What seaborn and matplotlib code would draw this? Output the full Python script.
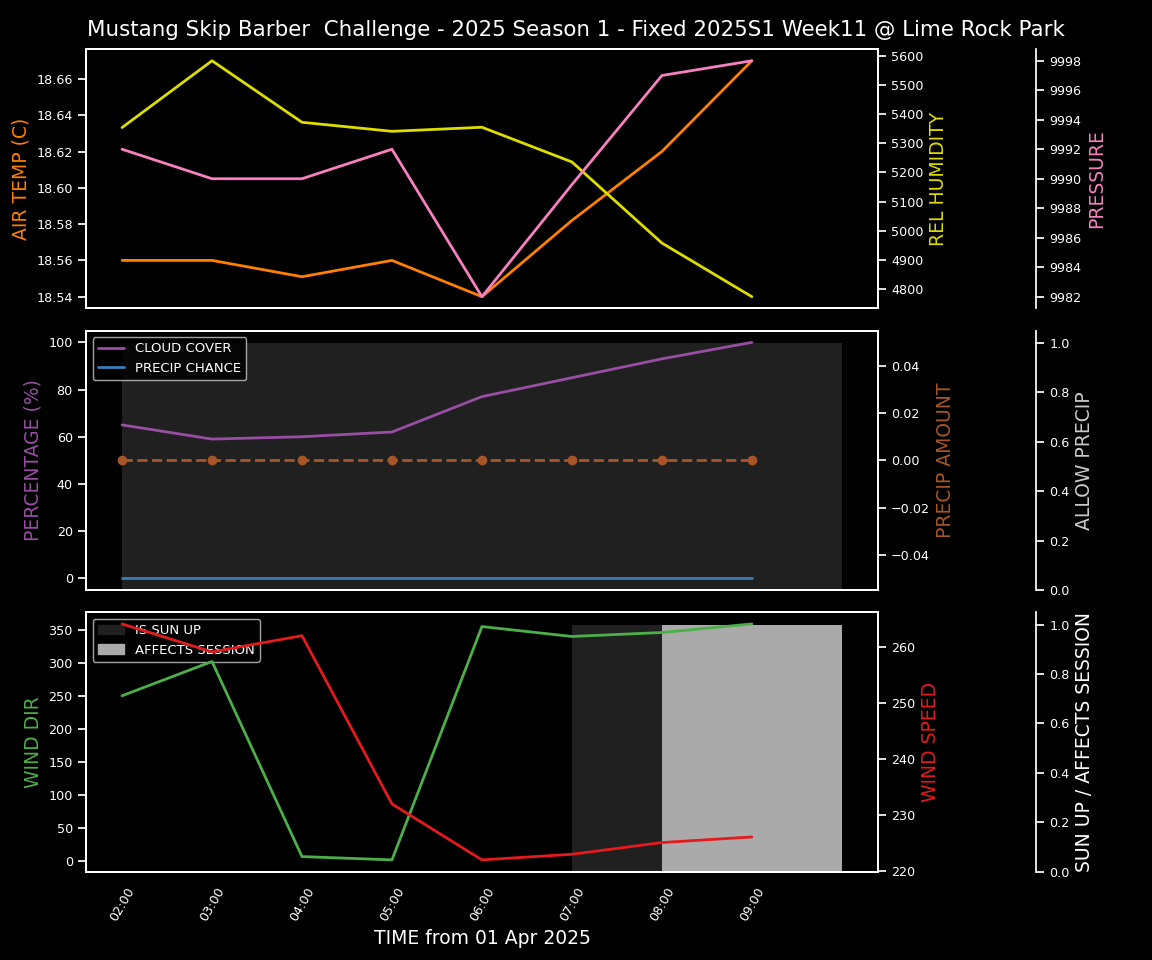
import matplotlib
matplotlib.use("Agg")
import matplotlib.pyplot as plt
import matplotlib.dates as mdates
from matplotlib.ticker import MultipleLocator
from matplotlib.patches import Patch
import seaborn as sns
import pandas as pd

sns.set_theme(style="dark")
plt.style.use("dark_background")
plt.rcParams['font.family'] = ['DejaVu Sans']
plt.rcParams['xtick.labelsize'] = 9.2
plt.rcParams['ytick.labelsize'] = 9.2
plt.rcParams['legend.fontsize'] = 9.5

# ---- data ----
time_labels = ["02:00", "03:00", "04:00", "05:00", "06:00", "07:00", "08:00", "09:00"]
air_temp = [18.56, 18.56, 18.551, 18.56, 18.54, 18.582, 18.62, 18.67]
rel_humidity = [5354, 5583, 5372, 5341, 5355, 5236, 4958, 4774]
pressure = [9992, 9990, 9990, 9992, 9982, 9989.6, 9997, 9998]
cloud_cover = [65, 59, 60, 62, 77, 85, 93, 100]
precip_chance = [0, 0, 0, 0, 0, 0, 0, 0]
precip_amount = [0, 0, 0, 0, 0, 0, 0, 0]
allow_precip = [1, 1, 1, 1, 1, 1, 1, 1]
wind_dir = [250, 302, 6, 1, 355, 340, 346, 359]
wind_speed = [264.2, 259.2, 262.1, 232.0, 222.0, 223.0, 225.1, 226.1]
sun_up = [0, 0, 0, 0, 0, 1, 1, 1]
affects_session = [0, 0, 0, 0, 0, 0, 1, 1]

times = pd.to_datetime(["2025-04-01 " + t for t in time_labels])
times_ext = list(times) + [times[-1] + pd.Timedelta(hours=1)]
def ext(v):
    return list(v) + [v[-1]]

C_TEMP = "#ff7f00"
C_HUM = "#dddd00"
C_PRES = "#f781bf"
C_CLOUD = "#984ea3"
C_PCH = "#377eb8"
C_PAMT = "#a65628"
C_WDIR = "#4daf4a"
C_WSPD = "#e41a1c"
C_ALLOW = "#cccccc"
LW = 2
LBL = 13.5

fig, axes = plt.subplots(3, 1, figsize=(11.52, 9.6), dpi=100, sharex=True)
fig.subplots_adjust(left=0.0747, right=0.762, top=0.949, bottom=0.092, hspace=0.085)
fig.suptitle("Mustang Skip Barber  Challenge - 2025 Season 1 - Fixed 2025S1 Week11 @ Lime Rock Park",
             fontsize=15.4, color="white", y=0.979)

# ---- top panel ----
ax = axes[0]
sns.lineplot(x=times, y=air_temp, ax=ax, color=C_TEMP, linewidth=LW)
ax.set_ylabel("AIR TEMP (C)", color=C_TEMP, fontsize=LBL)
ax2 = ax.twinx()
sns.lineplot(x=times, y=rel_humidity, ax=ax2, color=C_HUM, linewidth=LW)
ax2.set_ylabel("REL HUMIDITY", color=C_HUM, fontsize=LBL)
ax3 = ax.twinx()
ax3.spines['right'].set_position(('axes', 1.2))
sns.lineplot(x=times, y=pressure, ax=ax3, color=C_PRES, linewidth=LW)
ax3.yaxis.set_major_locator(MultipleLocator(2))
ax3.set_ylabel("PRESSURE", color=C_PRES, fontsize=LBL)

# ---- middle panel ----
ax = axes[1]
ax3 = ax.twinx()
ax3.spines['right'].set_position(('axes', 1.2))
ax3.fill_between(times_ext, 0, ext(allow_precip), step='post', color="#202020", linewidth=0)
ax3.set_ylim(0, 1.05)
ax3.set_ylabel("ALLOW PRECIP", color=C_ALLOW, fontsize=LBL)
ax2 = ax.twinx()
sns.lineplot(x=times, y=precip_amount, ax=ax2, color=C_PAMT, linewidth=LW,
             linestyle='--', marker='o', markersize=7, markeredgewidth=0)
ax2.set_ylabel("PRECIP AMOUNT", color=C_PAMT, fontsize=LBL)
sns.lineplot(x=times, y=cloud_cover, ax=ax, color=C_CLOUD, linewidth=LW, label="CLOUD COVER")
sns.lineplot(x=times, y=precip_chance, ax=ax, color=C_PCH, linewidth=LW, label="PRECIP CHANCE")
ax.set_ylabel("PERCENTAGE (%)", color=C_CLOUD, fontsize=LBL)
ax.legend(loc="upper left")
ax3.set_zorder(0)
ax2.set_zorder(1)
ax.set_zorder(2)
ax.patch.set_visible(False)
ax2.patch.set_visible(False)

# ---- bottom panel ----
ax = axes[2]
ax3 = ax.twinx()
ax3.spines['right'].set_position(('axes', 1.2))
ax3.fill_between(times_ext, 0, ext(sun_up), step='post', color="#202020", linewidth=0)
ax3.fill_between(times_ext, 0, ext(affects_session), step='post', color="#aaaaaa", linewidth=0)
ax3.set_ylim(0, 1.05)
ax3.set_ylabel("SUN UP / AFFECTS SESSION", color="white", fontsize=LBL)
ax3.legend(handles=[Patch(color="#202020", label="IS SUN UP"),
                    Patch(color="#aaaaaa", label="AFFECTS SESSION")],
           loc="upper left")
sns.lineplot(x=times, y=wind_dir, ax=ax, color=C_WDIR, linewidth=LW)
ax.set_ylabel("WIND DIR", color=C_WDIR, fontsize=LBL)
ax2 = ax.twinx()
sns.lineplot(x=times, y=wind_speed, ax=ax2, color=C_WSPD, linewidth=LW)
ax2.set_ylabel("WIND SPEED", color=C_WSPD, fontsize=LBL)
ax3.set_zorder(0)
ax.set_zorder(1)
ax2.set_zorder(2)
ax.patch.set_visible(False)
ax2.patch.set_visible(False)

ax.set_xticks(times)
ax.xaxis.set_major_formatter(mdates.DateFormatter("%H:%M"))
for lab in ax.get_xticklabels():
    lab.set_rotation(60)
ax.set_xlabel("TIME from 01 Apr 2025", fontsize=LBL)
ax.set_xlim(times_ext[0] - pd.Timedelta(minutes=24), times_ext[-1] + pd.Timedelta(minutes=24))

fig.savefig("out.png", dpi=100, facecolor="black")
